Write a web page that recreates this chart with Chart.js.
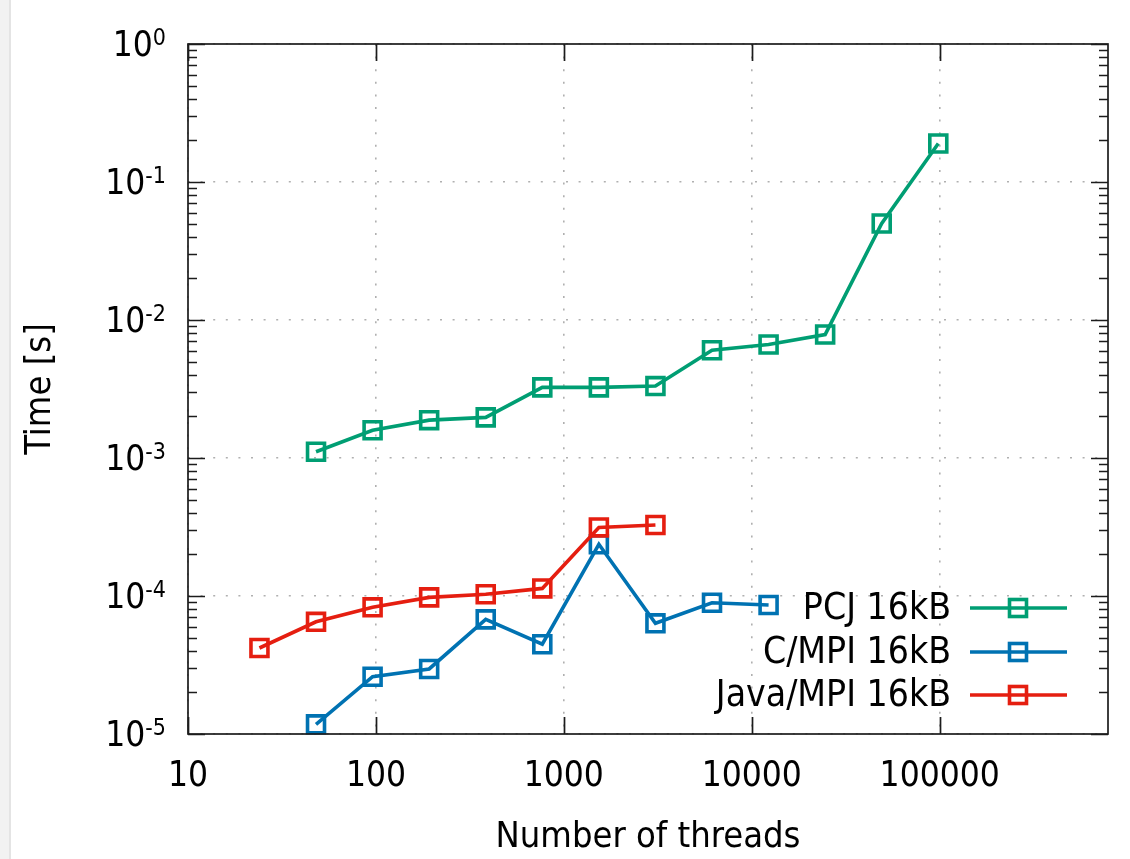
<!DOCTYPE html>
<html>
<head>
<meta charset="utf-8">
<title>Time vs number of threads</title>
<script src="https://cdn.jsdelivr.net/npm/chart.js@4"></script>
<style>
  html, body { margin: 0; padding: 0; background: #fff; }
  #wrap { position: relative; width: 1130px; height: 859px; overflow: hidden; }
  #edge { position: absolute; left: 0; top: 0; width: 9px; height: 859px; background: #f2f2f2; border-right: 2px solid #e4e4e4; }
  canvas { display: block; }
</style>
</head>
<body>
<div id="wrap">
  <canvas id="chart" width="1130" height="859"></canvas>
  <div id="edge"></div>
</div>
<script>
// Thread counts per series
const threadsPCJ  = [48, 96, 192, 384, 768, 1536, 3072, 6144, 12288, 24576, 49152, 98304];
const threadsC    = [48, 96, 192, 384, 768, 1536, 3072, 6144, 12288];
const threadsJava = [24, 48, 96, 192, 384, 768, 1536, 3072];

// Measured times [s]
const timePCJ  = [1.11e-3, 1.59e-3, 1.88e-3, 1.97e-3, 3.25e-3, 3.25e-3, 3.32e-3, 6.04e-3, 6.65e-3, 7.85e-3, 5.0e-2, 0.19];
const timeC    = [1.175e-5, 2.6e-5, 2.96e-5, 6.77e-5, 4.47e-5, 2.37e-4, 6.34e-5, 8.93e-5, 8.6e-5];
const timeJava = [4.2e-5, 6.5e-5, 8.28e-5, 9.77e-5, 1.03e-4, 1.135e-4, 3.14e-4, 3.27e-4];

// Series labels
const seriesLabels = ['PCJ 16kB', 'C/MPI 16kB', 'Java/MPI 16kB'];

// Axis ticks
const xTickValues = [10, 100, 1000, 10000, 100000];
const yExponents  = [0, -1, -2, -3, -4, -5];

const FONT = '"DejaVu Sans Condensed", "DejaVu Sans", sans-serif';
const COLORS = ['#009e73', '#0072b2', '#e51e10'];
const LINE_W = 3.6;

function toPoints(xs, ys) { return xs.map((x, i) => ({ x: x, y: ys[i] })); }

function seriesStyle(color, order) {
  return {
    borderColor: color,
    backgroundColor: color,
    borderWidth: LINE_W,
    pointStyle: 'rect',
    pointRadius: 12,
    pointHoverRadius: 12,
    pointBorderWidth: LINE_W,
    pointBorderColor: color,
    pointBackgroundColor: 'rgba(0,0,0,0)',
    tension: 0,
    fill: false,
    clip: false,
    order: order
  };
}

// Frame with inward ticks, exponent-style y labels and a gnuplot-like key
const framePlugin = {
  id: 'frame',
  afterDatasetsDraw(chart) {
    const { ctx, chartArea: a, scales: { x, y } } = chart;
    ctx.save();
    // border
    ctx.strokeStyle = '#1c1c1c';
    ctx.lineWidth = 1.7;
    ctx.strokeRect(a.left, a.top, a.right - a.left, a.bottom - a.top);
    // y ticks (major + minor) on both sides
    ctx.beginPath();
    yExponents.forEach(e => {
      for (let m = 1; m <= 9; m++) {
        if (e === 0 && m > 1) break;
        const py = Math.round(y.getPixelForValue(m * Math.pow(10, e))) + 0.5;
        const len = m === 1 ? 17 : 9;
        ctx.moveTo(a.left, py); ctx.lineTo(a.left + len, py);
        ctx.moveTo(a.right, py); ctx.lineTo(a.right - len, py);
      }
    });
    // x major ticks on bottom and top
    xTickValues.forEach(v => {
      const px = Math.round(x.getPixelForValue(v)) + 0.5;
      ctx.moveTo(px, a.bottom); ctx.lineTo(px, a.bottom - 17);
      ctx.moveTo(px, a.top); ctx.lineTo(px, a.top + 17);
    });
    ctx.stroke();

    // y tick labels: 10 with a raised exponent
    ctx.fillStyle = '#000';
    ctx.textBaseline = 'alphabetic';
    ctx.textAlign = 'left';
    const baseFont = '35px ' + FONT;
    const expFont = '23px ' + FONT;
    const rightEdge = 166;
    yExponents.forEach(e => {
      const py = y.getPixelForValue(Math.pow(10, e));
      const expText = String(e);
      ctx.font = expFont;
      const ew = ctx.measureText(expText).width;
      ctx.font = baseFont;
      const bw = ctx.measureText('10').width;
      ctx.fillText('10', rightEdge - ew - bw, py + 11.5);
      ctx.font = expFont;
      ctx.fillText(expText, rightEdge - ew, py + 0.5);
    });

    // key
    const rows = [608, 652, 695];
    ctx.font = '37px ' + FONT;
    ctx.textAlign = 'right';
    chart.data.datasets.forEach((ds, i) => {
      const ry = rows[i];
      ctx.fillStyle = '#000';
      ctx.fillText(ds.label, 951, ry + 11);
      ctx.strokeStyle = ds.borderColor;
      ctx.lineWidth = LINE_W;
      ctx.beginPath();
      ctx.moveTo(970, ry); ctx.lineTo(1067, ry);
      ctx.stroke();
      const s = 17 / 2;
      ctx.strokeRect(1018 - s, ry - s, 2 * s, 2 * s);
    });
    ctx.restore();
  }
};

const chart = new Chart(document.getElementById('chart'), {
  type: 'line',
  data: {
    datasets: [
      Object.assign({ label: seriesLabels[0], data: toPoints(threadsPCJ, timePCJ) }, seriesStyle(COLORS[0], 3)),
      Object.assign({ label: seriesLabels[1], data: toPoints(threadsC, timeC) }, seriesStyle(COLORS[1], 2)),
      Object.assign({ label: seriesLabels[2], data: toPoints(threadsJava, timeJava) }, seriesStyle(COLORS[2], 1))
    ]
  },
  options: {
    responsive: false,
    animation: false,
    devicePixelRatio: 1,
    layout: { padding: { left: 0, top: 44, right: 22, bottom: 0 } },
    plugins: {
      legend: { display: false },
      tooltip: { enabled: false }
    },
    scales: {
      x: {
        type: 'logarithmic',
        min: 10,
        max: 786432,
        afterBuildTicks(scale) { scale.ticks = xTickValues.map(v => ({ value: v })); },
        afterFit(scale) { scale.height = 125; },
        ticks: {
          autoSkip: false,
          maxRotation: 0,
          padding: 22,
          color: '#000',
          font: { family: FONT, size: 35 },
          callback: v => String(v)
        },
        grid: { color: '#b0b0b0', lineWidth: 1.6, drawTicks: false },
        border: { display: false, dash: [2, 10.6] },
        title: {
          display: true,
          text: 'Number of threads',
          color: '#000',
          font: { family: FONT, size: 36, lineHeight: 1.2 },
          padding: { top: 0, bottom: 0 }
        }
      },
      y: {
        type: 'logarithmic',
        min: 1e-5,
        max: 1,
        afterBuildTicks(scale) { scale.ticks = yExponents.map(e => ({ value: Math.pow(10, e) })); },
        afterFit(scale) { scale.width = 188; },
        ticks: { display: false },
        grid: { color: '#b0b0b0', lineWidth: 1.6, drawTicks: false },
        border: { display: false, dash: [2, 10.6] },
        title: {
          display: true,
          text: 'Time [s]',
          color: '#000',
          font: { family: FONT, size: 36, lineHeight: 1.2 },
          padding: { top: 19, bottom: 0 }
        }
      }
    }
  },
  plugins: [framePlugin]
});
</script>
</body>
</html>
